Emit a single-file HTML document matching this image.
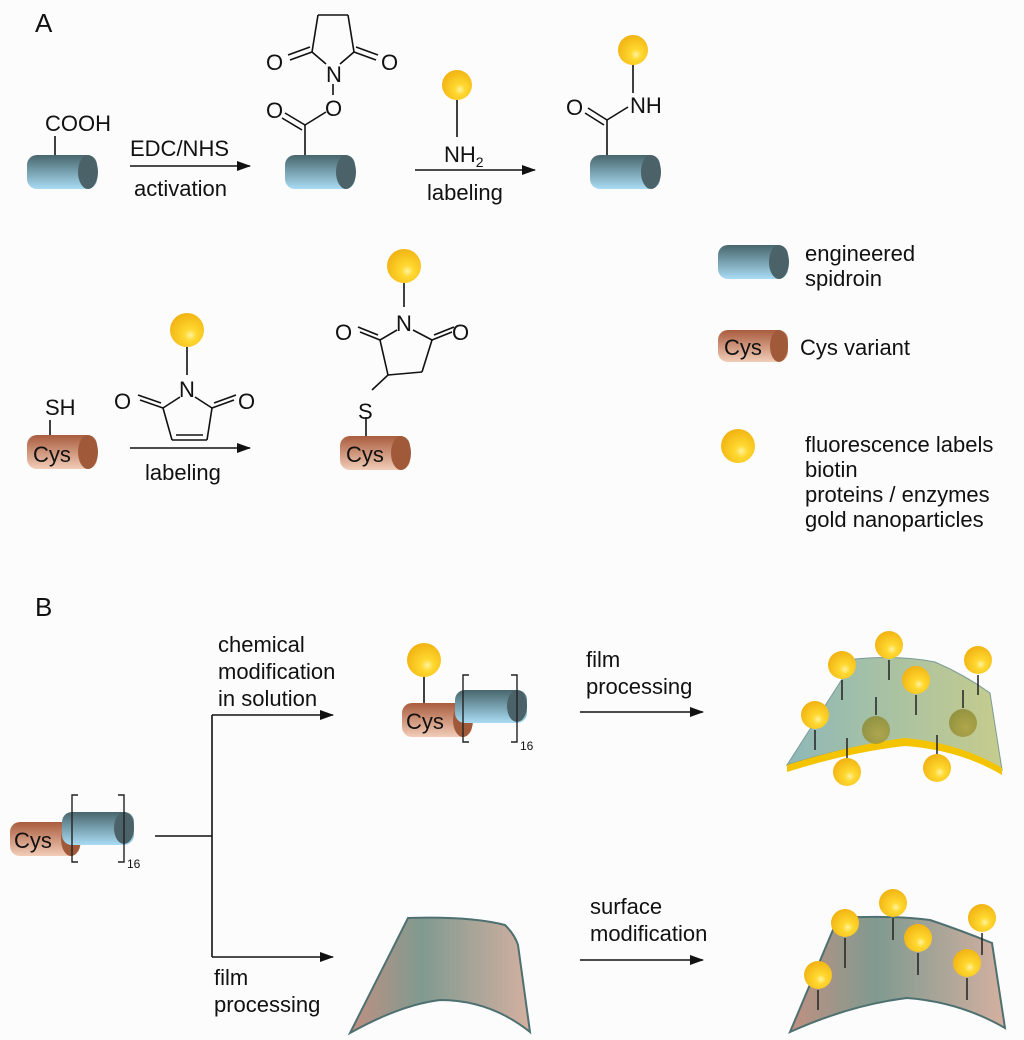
<!DOCTYPE html>
<html><head><meta charset="utf-8"><style>
html,body{margin:0;padding:0;background:#fcfcfc}
svg{display:block}
text{font-family:"Liberation Sans",sans-serif;fill:#111}
</style></head><body>
<svg width="1024" height="1040" viewBox="0 0 1024 1040" xmlns="http://www.w3.org/2000/svg">
<defs>
<linearGradient id="bl" x1="0" y1="0" x2="0" y2="1"><stop offset="0" stop-color="#48666c"/><stop offset="1" stop-color="#a9dcf4"/></linearGradient>
<linearGradient id="br" x1="0" y1="0" x2="0" y2="1"><stop offset="0" stop-color="#a95c3e"/><stop offset="1" stop-color="#f2cdb8"/></linearGradient>
<radialGradient id="au" cx="0.6" cy="0.65" r="0.7"><stop offset="0" stop-color="#fff3a0"/><stop offset="0.25" stop-color="#ffd830"/><stop offset="1" stop-color="#f0b010"/></radialGradient>
<radialGradient id="aud" cx="0.6" cy="0.65" r="0.7"><stop offset="0" stop-color="#b0a040"/><stop offset="1" stop-color="#8a8a30"/></radialGradient>
<linearGradient id="f1" x1="0" y1="0" x2="1" y2="0"><stop offset="0" stop-color="#8eb8b8"/><stop offset="1" stop-color="#c6cc8c"/></linearGradient>
<linearGradient id="f2" x1="0" y1="0" x2="1" y2="0"><stop offset="0" stop-color="#c09080"/><stop offset="0.4" stop-color="#809a90"/><stop offset="1" stop-color="#d4b0a0"/></linearGradient>
<marker id="ar" markerWidth="14" markerHeight="10" refX="13" refY="5" orient="auto" markerUnits="userSpaceOnUse"><path d="M0,0 L14,5 L0,10 z" fill="#111"/></marker>
</defs>
<g stroke="#111" stroke-width="1.6" fill="none">
<line x1="55" y1="136" x2="55" y2="157"/>
<line x1="130" y1="166" x2="250" y2="166" marker-end="url(#ar)"/>
<line x1="305" y1="157" x2="305" y2="125"/>
<line x1="305" y1="125" x2="285" y2="113"/><line x1="302" y1="130" x2="282" y2="118"/>
<line x1="305" y1="125" x2="326" y2="112"/>
<line x1="333" y1="95" x2="333" y2="84"/>
<line x1="326" y1="64" x2="312" y2="52"/><line x1="340" y1="64" x2="354" y2="52"/>
<line x1="312" y1="52" x2="318" y2="15"/><line x1="318" y1="15" x2="348" y2="15"/><line x1="348" y1="15" x2="354" y2="52"/>
<line x1="312" y1="52" x2="290" y2="60"/><line x1="310" y1="47" x2="288" y2="55"/>
<line x1="354" y1="52" x2="376" y2="60"/><line x1="356" y1="47" x2="378" y2="55"/>
<line x1="457" y1="100" x2="457" y2="137"/>
<line x1="415" y1="170" x2="535" y2="170" marker-end="url(#ar)"/>
<line x1="607" y1="157" x2="607" y2="120"/>
<line x1="607" y1="120" x2="588" y2="108"/><line x1="604" y1="125" x2="585" y2="113"/>
<line x1="607" y1="120" x2="628" y2="107"/>
<line x1="633" y1="65" x2="633" y2="93"/>
<line x1="50" y1="420" x2="50" y2="437"/>
<line x1="187" y1="347" x2="187" y2="375"/>
<line x1="180" y1="397" x2="163" y2="408"/><line x1="195" y1="397" x2="212" y2="408"/>
<line x1="163" y1="408" x2="172" y2="440"/><line x1="172" y1="440" x2="207" y2="440"/><line x1="176" y1="435" x2="203" y2="435"/><line x1="207" y1="440" x2="212" y2="408"/>
<line x1="163" y1="408" x2="140" y2="400"/><line x1="161" y1="403" x2="138" y2="395"/>
<line x1="212" y1="408" x2="234" y2="400"/><line x1="214" y1="403" x2="236" y2="395"/>
<line x1="130" y1="448" x2="250" y2="448" marker-end="url(#ar)"/>
<line x1="404" y1="283" x2="404" y2="307"/>
<line x1="397" y1="330" x2="380" y2="340"/><line x1="413" y1="330" x2="432" y2="340"/>
<line x1="380" y1="340" x2="388" y2="375"/><line x1="388" y1="375" x2="422" y2="372"/><line x1="422" y1="372" x2="432" y2="340"/>
<line x1="380" y1="340" x2="360" y2="332"/><line x1="378" y1="335" x2="358" y2="327"/>
<line x1="432" y1="340" x2="452" y2="332"/><line x1="434" y1="335" x2="454" y2="327"/>
<line x1="388" y1="375" x2="372" y2="390"/>
<line x1="366" y1="417" x2="366" y2="437"/>
<line x1="155" y1="836" x2="212" y2="836"/>
<line x1="212" y1="715" x2="212" y2="957"/>
<line x1="212" y1="715" x2="333" y2="715" marker-end="url(#ar)"/>
<line x1="212" y1="957" x2="333" y2="957" marker-end="url(#ar)"/>
<line x1="580" y1="712" x2="703" y2="712" marker-end="url(#ar)"/>
<line x1="580" y1="960" x2="703" y2="960" marker-end="url(#ar)"/>
<line x1="424" y1="676" x2="424" y2="705"/>
</g>
<g>
<rect x="27" y="155" width="70" height="34" rx="10" fill="url(#bl)"/><ellipse cx="88" cy="172" rx="10" ry="17" fill="#4a6268"/>
<rect x="285" y="155" width="70" height="34" rx="10" fill="url(#bl)"/><ellipse cx="346" cy="172" rx="10" ry="17" fill="#4a6268"/>
<rect x="590" y="155" width="70" height="34" rx="10" fill="url(#bl)"/><ellipse cx="651" cy="172" rx="10" ry="17" fill="#4a6268"/>
<rect x="718" y="245" width="70" height="34" rx="10" fill="url(#bl)"/><ellipse cx="779" cy="262" rx="10" ry="17" fill="#4a6268"/>
<rect x="718" y="330" width="70" height="32" rx="10" fill="url(#br)"/><ellipse cx="779" cy="346" rx="9" ry="16" fill="#a05a3a"/>
<rect x="27" y="435" width="70" height="34" rx="10" fill="url(#br)"/><ellipse cx="88" cy="452" rx="10" ry="17" fill="#a05a3a"/>
<rect x="340" y="436" width="70" height="34" rx="10" fill="url(#br)"/><ellipse cx="401" cy="453" rx="10" ry="17" fill="#a05a3a"/>
<rect x="10" y="822" width="70" height="34" rx="10" fill="url(#br)"/><ellipse cx="71" cy="839" rx="10" ry="17" fill="#a05a3a"/>
<rect x="62" y="812" width="72" height="33" rx="10" fill="url(#bl)"/><ellipse cx="124" cy="828" rx="10" ry="16" fill="#4a6268"/>
<rect x="402" y="703" width="70" height="34" rx="10" fill="url(#br)"/><ellipse cx="463" cy="720" rx="10" ry="17" fill="#a05a3a"/>
<rect x="455" y="690" width="72" height="33" rx="10" fill="url(#bl)"/><ellipse cx="517" cy="706" rx="10" ry="16" fill="#4a6268"/>
</g>
<g stroke="#222" stroke-width="1.4" fill="none">
<path d="M78,795 h-6 v67 h6"/><path d="M118,795 h6 v67 h-6"/>
<path d="M469,675 h-6 v67 h6"/><path d="M511,675 h6 v67 h-6"/>
</g>
<path d="M855,659 Q900,655 935,662 Q965,675 990,693 L1002,770 Q960,745 905,740 Q850,745 787,765 Z" fill="url(#f1)" stroke="#7a9a98" stroke-width="1"/>
<path d="M787,765 Q850,745 905,738 Q960,743 1002,768 L1002,775 Q960,750 905,746 Q850,752 787,772 Z" fill="#f4c400"/>
<path d="M838,918 Q890,915 930,920 Q960,930 992,943 L1005,1028 Q960,1002 907,998 Q850,1005 790,1032 Z" fill="url(#f2)" stroke="#4e7070" stroke-width="2"/>
<path d="M408,918 Q470,916 505,925 Q515,935 518,945 L530,1032 Q490,1000 440,1000 Q400,1005 350,1033 Z" fill="url(#f2)" stroke="#4e7070" stroke-width="2"/>
<g stroke="#222" stroke-width="1.5">
<line x1="842" y1="680" x2="842" y2="700"/><line x1="889" y1="660" x2="889" y2="680"/><line x1="978" y1="675" x2="978" y2="695"/><line x1="916" y1="695" x2="916" y2="715"/><line x1="815" y1="730" x2="815" y2="750"/><line x1="876" y1="697" x2="876" y2="715"/><line x1="963" y1="690" x2="963" y2="708"/><line x1="847" y1="738" x2="847" y2="758"/><line x1="937" y1="735" x2="937" y2="754"/>
<line x1="845" y1="938" x2="845" y2="968"/><line x1="893" y1="918" x2="893" y2="940"/><line x1="982" y1="933" x2="982" y2="955"/><line x1="918" y1="953" x2="918" y2="975"/><line x1="818" y1="990" x2="818" y2="1010"/><line x1="967" y1="978" x2="967" y2="1000"/>
</g>
<g fill="url(#au)">
<circle cx="457" cy="85" r="15"/><circle cx="633" cy="50" r="15"/><circle cx="738" cy="446" r="17"/>
<circle cx="187" cy="330" r="17"/><circle cx="404" cy="266" r="17"/><circle cx="424" cy="660" r="17"/>
<circle cx="842" cy="665" r="14"/><circle cx="889" cy="645" r="14"/><circle cx="978" cy="660" r="14"/><circle cx="916" cy="680" r="14"/><circle cx="815" cy="715" r="14"/><circle cx="847" cy="772" r="14"/><circle cx="937" cy="768" r="14"/>
<circle cx="845" cy="923" r="14"/><circle cx="893" cy="903" r="14"/><circle cx="982" cy="918" r="14"/><circle cx="918" cy="938" r="14"/><circle cx="818" cy="975" r="14"/><circle cx="967" cy="963" r="14"/>
</g>
<g fill="url(#aud)" opacity="0.85"><circle cx="876" cy="730" r="14"/><circle cx="963" cy="723" r="14"/></g>
<g font-size="22">
<text x="35" y="32" font-size="26">A</text>
<text x="45" y="131">COOH</text>
<text x="130" y="156">EDC/NHS</text>
<text x="134" y="196">activation</text>
<text x="266" y="70">O</text><text x="381" y="70">O</text>
<text x="326" y="82">N</text><text x="325" y="116">O</text><text x="266" y="118">O</text>
<text x="444" y="162">NH<tspan font-size="14" dy="5">2</tspan></text>
<text x="427" y="200">labeling</text>
<text x="566" y="115">O</text><text x="630" y="113">NH</text>
<text x="805" y="261">engineered</text><text x="805" y="286">spidroin</text>
<text x="724" y="355">Cys</text><text x="800" y="355">Cys variant</text>
<text x="805" y="452">fluorescence labels</text><text x="805" y="477">biotin</text><text x="805" y="502">proteins / enzymes</text><text x="805" y="527">gold nanoparticles</text>
<text x="45" y="415">SH</text><text x="33" y="462">Cys</text>
<text x="114" y="409">O</text><text x="238" y="409">O</text><text x="179" y="397">N</text>
<text x="145" y="480">labeling</text>
<text x="335" y="340">O</text><text x="452" y="340">O</text><text x="396" y="331">N</text>
<text x="358" y="419">S</text><text x="346" y="462">Cys</text>
<text x="35" y="616" font-size="26">B</text>
<text x="218" y="652">chemical</text><text x="218" y="679">modification</text><text x="218" y="706">in solution</text>
<text x="214" y="985">film</text><text x="214" y="1012">processing</text>
<text x="586" y="667">film</text><text x="586" y="694">processing</text>
<text x="590" y="914">surface</text><text x="590" y="941">modification</text>
<text x="14" y="848">Cys</text><text x="406" y="729">Cys</text>
<text x="127" y="868" font-size="12">16</text><text x="520" y="750" font-size="12">16</text>
</g>
</svg>
</body></html>
